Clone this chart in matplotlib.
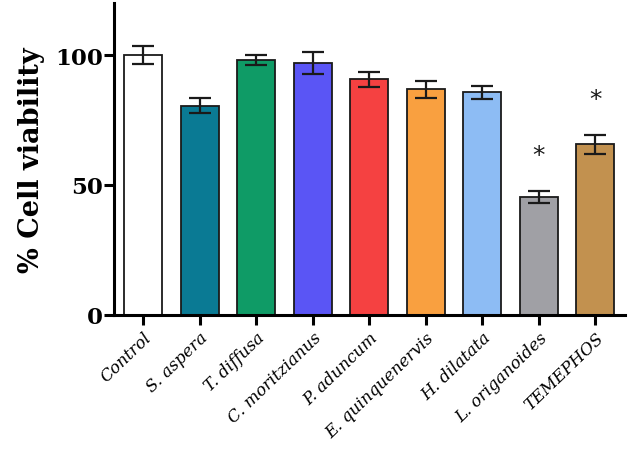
import numpy as np
import matplotlib
matplotlib.use('Agg')
import matplotlib.pyplot as plt

# --- data ---
groups = ['Control', 'S. aspera', 'T. diffusa', 'C. moritzianus', 'P. aduncum',
          'E. quinquenervis', 'H. dilatata', 'L. origanoides', 'TEMEPHOS']
viability = [100.0, 80.5, 98.0, 96.8, 90.6, 86.8, 85.6, 45.3, 65.6]
errors = [3.5, 2.8, 2.0, 4.2, 3.0, 3.2, 2.6, 2.2, 3.5]
colors = ['#ffffff', '#0a7a94', '#0f9b66', '#5a55f5', '#f54141',
          '#f9a040', '#8dbcf4', '#a0a0a5', '#c2914f']
star_groups = ['L. origanoides', 'TEMEPHOS']
star_heights = [61.5, 83.0]
y_ticks = [0, 50, 100]

fig = plt.figure(figsize=(6.29, 4.52), dpi=100)
ax = fig.add_axes([0.181, 0.301, 0.813, 0.690])

x = np.arange(len(groups))
ax.bar(x, viability, width=0.67, color=colors, edgecolor='#1a1a1a', linewidth=1.3, zorder=2)
ax.errorbar(x, viability, yerr=errors, fmt='none', ecolor='#1a1a1a',
            elinewidth=1.6, capsize=8, capthick=1.6, zorder=3)

for g, h in zip(star_groups, star_heights):
    ax.text(groups.index(g), h, '*', ha='center', va='center', fontsize=18,
            family='DejaVu Sans', color='#1a1a1a')

ax.set_xlim(-0.52, 8.53)
ax.set_ylim(0, 120)
ax.set_yticks(y_ticks)
ax.set_xticks(x)
ax.set_xticklabels(groups, rotation=44, ha='right', rotation_mode='anchor',
                   family='DejaVu Serif', style='italic', fontsize=12)
for lab in ax.get_yticklabels():
    lab.set_family('DejaVu Serif')
    lab.set_fontweight('bold')
    lab.set_fontsize(16.5)

ax.set_ylabel('% Cell viability', family='DejaVu Serif', fontweight='bold',
              fontsize=19.5, labelpad=7)

for side in ['top', 'right']:
    ax.spines[side].set_visible(False)
for side in ['left', 'bottom']:
    ax.spines[side].set_linewidth(2.2)
ax.tick_params(axis='both', width=2.2, length=7, direction='out')
ax.tick_params(axis='y', pad=1)
ax.tick_params(axis='x', pad=3)

fig.savefig('out.png', dpi=100)
